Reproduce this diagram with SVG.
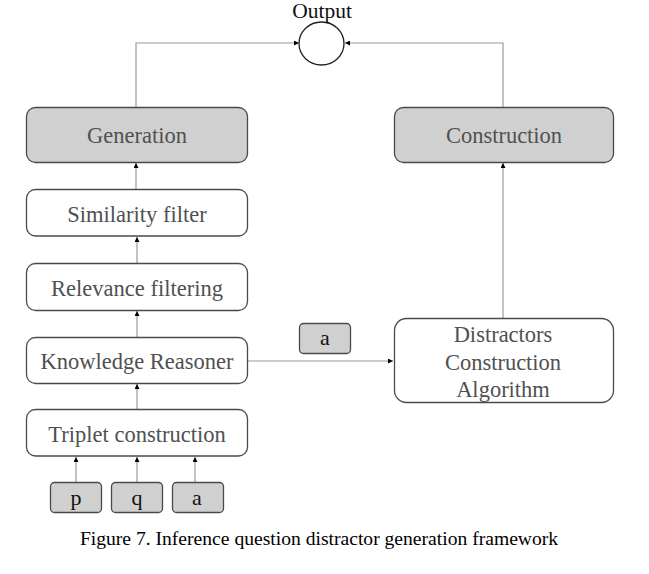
<svg xmlns="http://www.w3.org/2000/svg" width="649" height="574" viewBox="0 0 649 574">
<style>
.box{fill:#fff;stroke:#4a4a4a;stroke-width:1.3}
.gbox{fill:#d0d0d0;stroke:#4a4a4a;stroke-width:1.3}
.lbl{font-family:'Liberation Serif','Times New Roman',serif;font-size:22.5px;fill:#505050;text-anchor:middle}
.blk{font-family:'Liberation Serif','Times New Roman',serif;font-size:22px;fill:#111;text-anchor:middle}
.ln{fill:none;stroke:#9a9a9a;stroke-width:1.2;marker-end:url(#ah)}
</style>
<defs>
<marker id="ah" viewBox="0 0 10 10" refX="10" refY="5" markerWidth="5" markerHeight="5" orient="auto" markerUnits="userSpaceOnUse">
<path d="M0,0 L10,5 L0,10 z" fill="#000"/>
</marker>
</defs>
<rect width="649" height="574" fill="#fff"/>
<g id="connectors">
<path class="ln" d="M136,107 V43 H299"/>
<path class="ln" d="M503,107 V43 H345"/>
<path class="ln" d="M136,189 V163"/>
<path class="ln" d="M137,263 V237"/>
<path class="ln" d="M137,337 V311"/>
<path class="ln" d="M137,409 V384"/>
<path class="ln" d="M76,482 V457"/>
<path class="ln" d="M137,482 V457"/>
<path class="ln" d="M195,482 V457"/>
<path class="ln" d="M247,361 H393"/>
<path class="ln" d="M503,318 V163"/>
</g>
<g id="output">
<ellipse cx="321.5" cy="43.5" rx="22.5" ry="21.5" fill="#fff" stroke="#222" stroke-width="1.3"/>
<text x="322" y="18" font-family="'Liberation Serif','Times New Roman',serif" font-size="21.5" fill="#111" text-anchor="middle">Output</text>
</g>
<g id="generation">
<rect class="gbox" x="26.5" y="107.5" width="221" height="55" rx="9"/>
<text class="lbl" x="137" y="143">Generation</text>
</g>
<g id="construction">
<rect class="gbox" x="394.5" y="107.5" width="219" height="55" rx="9"/>
<text class="lbl" x="504" y="143">Construction</text>
</g>
<g id="similarity">
<rect class="box" x="26.5" y="189.5" width="221" height="46.5" rx="9"/>
<text class="lbl" x="137" y="221.5">Similarity filter</text>
</g>
<g id="relevance">
<rect class="box" x="26.5" y="263.5" width="221" height="47" rx="9"/>
<text class="lbl" x="137" y="295.5">Relevance filtering</text>
</g>
<g id="knowledge">
<rect class="box" x="26.5" y="337.5" width="221" height="46" rx="9"/>
<text class="lbl" x="137" y="368.5">Knowledge Reasoner</text>
</g>
<g id="triplet">
<rect class="box" x="26.5" y="409.5" width="221" height="46.5" rx="9"/>
<text class="lbl" x="137" y="442">Triplet construction</text>
</g>
<g id="distractors">
<rect class="box" x="394.5" y="318.5" width="219" height="84" rx="12"/>
<text class="lbl" x="503" y="342">Distractors</text>
<text class="lbl" x="503" y="369.5">Construction</text>
<text class="lbl" x="503" y="397">Algorithm</text>
</g>
<g id="a-label">
<rect class="gbox" x="299.5" y="323.5" width="51" height="30" rx="4"/>
<text class="blk" x="325" y="345">a</text>
</g>
<g id="p">
<rect class="gbox" x="50.5" y="482.5" width="51" height="30" rx="4"/>
<text class="blk" x="76" y="505">p</text>
</g>
<g id="q">
<rect class="gbox" x="111.5" y="482.5" width="51" height="30" rx="4"/>
<text class="blk" x="137" y="505">q</text>
</g>
<g id="a">
<rect class="gbox" x="172.5" y="482.5" width="51" height="30" rx="4"/>
<text class="blk" x="197" y="505">a</text>
</g>
<text x="319" y="545" font-family="'Liberation Serif','Times New Roman',serif" font-size="19.6" fill="#000" text-anchor="middle">Figure 7. Inference question distractor generation framework</text>
</svg>
